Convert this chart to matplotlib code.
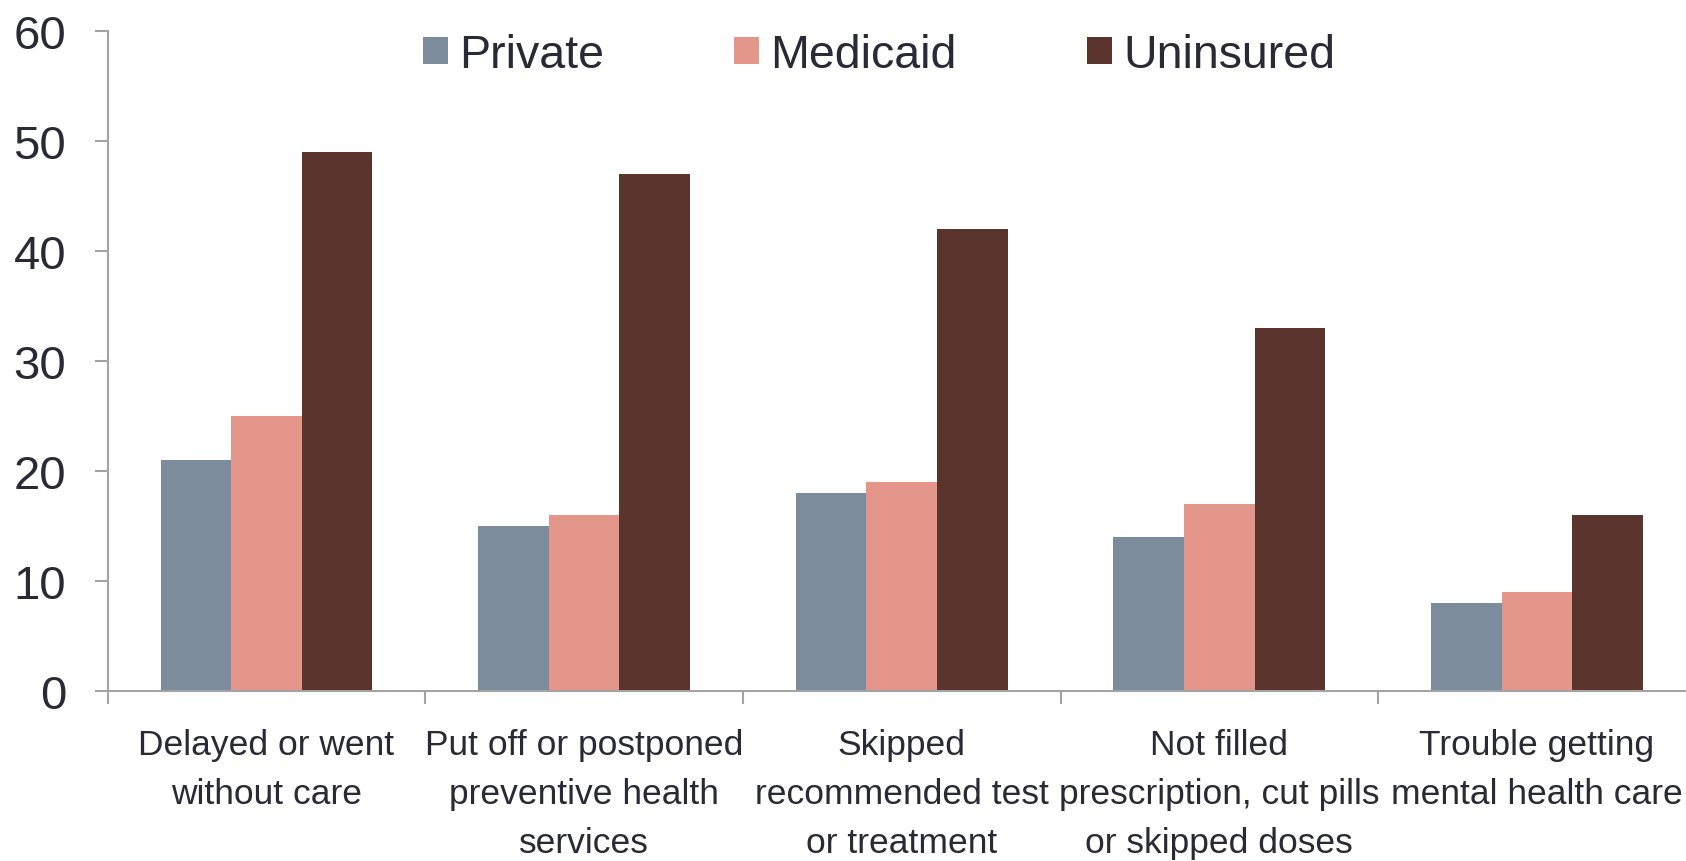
import matplotlib
matplotlib.use("Agg")
import matplotlib.pyplot as plt
import numpy as np
from matplotlib.patches import Patch

categories = [
    "Delayed or went\nwithout care",
    "Put off or postponed\npreventive health\nservices",
    "Skipped\nrecommended test\nor treatment",
    "Not filled\nprescription, cut pills\nor skipped doses",
    "Trouble getting\nmental health care",
]
series_names = ["Private", "Medicaid", "Uninsured"]
private = [21, 15, 18, 14, 8]
medicaid = [25, 16, 19, 17, 9]
uninsured = [49, 47, 42, 33, 16]
y_ticks = [0, 10, 20, 30, 40, 50, 60]

colors = ["#7d8c9c", "#e5968a", "#5c342e"]
text_color = "#2a2a36"
axis_color = "#a3a3a3"
font = "Liberation Sans"

W, H = 1686, 862
fig = plt.figure(figsize=(W / 100, H / 100), dpi=100)
left_px, zero_px, top_px, cat_px = 107.7, 692.0, 32.3, 317.6
ax = fig.add_axes([left_px / W, (H - zero_px) / H, 1 - left_px / W, (zero_px - top_px) / H])

x = np.arange(len(categories))
bw = 2 / 9
for i, (vals, c) in enumerate(zip([private, medicaid, uninsured], colors)):
    ax.bar(x + (i - 1) * bw, vals, width=bw, color=c, edgecolor="none", zorder=2)

for s in ["top", "right"]:
    ax.spines[s].set_visible(False)
for s in ["left", "bottom"]:
    ax.spines[s].set_color(axis_color)
    ax.spines[s].set_linewidth(1.5)

ax.set_yticks(y_ticks)
ax.set_yticklabels([str(v) for v in y_ticks], fontsize=34, family=font, color=text_color)
ax.tick_params(axis="y", length=9.4, width=1.5, color=axis_color, pad=20.5)

# category separators as major ticks, category names on minor ticks
ax.set_xticks(np.arange(-0.5, len(categories), 1.0))
ax.set_xticklabels([])
ax.set_xticks(x, minor=True)
ax.set_xticklabels(categories, minor=True, fontsize=25.5, family=font,
                   color=text_color, linespacing=1.6)
ax.tick_params(axis="x", which="major", length=9.4, width=1.5, color=axis_color)
ax.tick_params(axis="x", which="minor", length=0, pad=27)

ax.set_ylim(0, 60)
ax.set_xlim(-0.5, -0.5 + (W - left_px) / cat_px)

handles = [Patch(facecolor=c, edgecolor="none") for c in colors]
fig.legend(handles, series_names, loc="center", bbox_to_anchor=(879 / W, 1 - 56 / H),
           ncol=3, frameon=False, prop={"family": font, "size": 33.5},
           handlelength=0.54, handleheight=0.54, handletextpad=0.24, columnspacing=2.8,
           borderpad=0, labelcolor=text_color)

fig.savefig("out.png", dpi=100)
